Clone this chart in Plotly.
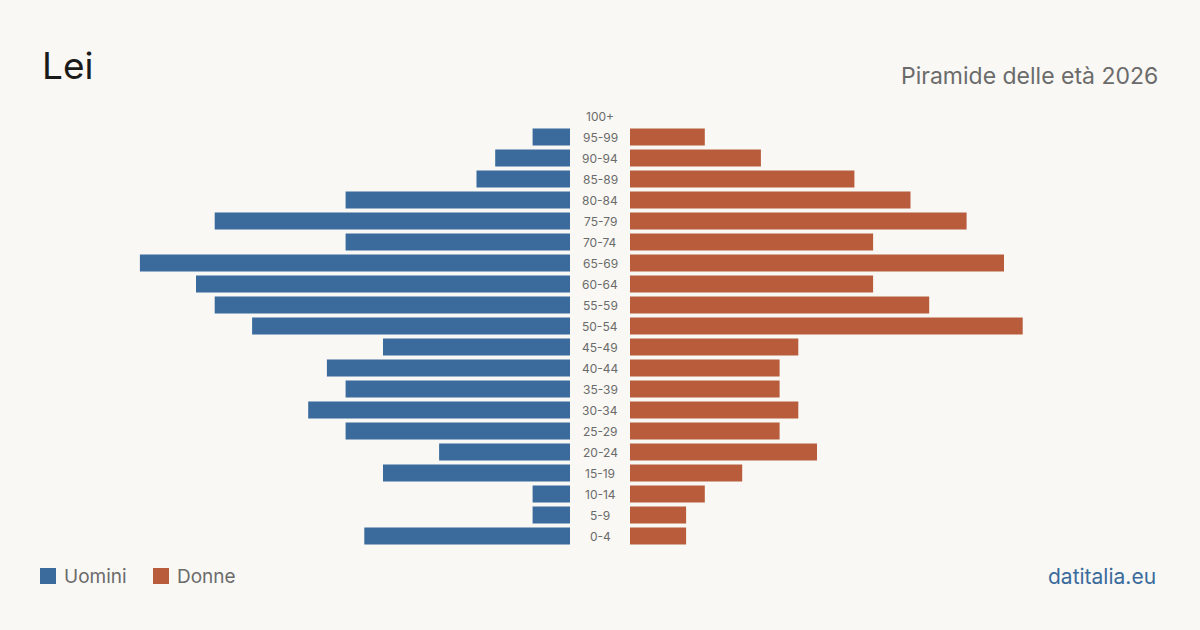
import plotly.graph_objects as go

age_groups = ["0-4", "5-9", "10-14", "15-19", "20-24", "25-29", "30-34", "35-39",
              "40-44", "45-49", "50-54", "55-59", "60-64", "65-69", "70-74", "75-79",
              "80-84", "85-89", "90-94", "95-99", "100+"]
men = [11, 2, 2, 10, 7, 12, 14, 12, 13, 10, 17, 19, 20, 23, 12, 19, 12, 5, 4, 2, 0]
women = [3, 3, 4, 6, 10, 8, 9, 8, 8, 9, 21, 16, 13, 20, 13, 18, 15, 12, 7, 4, 0]
series_names = ["Uomini", "Donne"]

BLUE = "#3A6B9C"
ORANGE = "#B85C3C"
BG = "#F9F8F4"
GREY = "#6B6B6B"
FONT = "Inter"

W, H = 1200, 630
RMAX = 24
idx = list(range(len(age_groups)))

fig = go.Figure()
fig.add_trace(go.Bar(y=idx, x=men, orientation="h", name=series_names[0], marker_color=BLUE,
                     marker_line_width=0, width=0.81, xaxis="x", yaxis="y",
                     hoverinfo="x+name", showlegend=False))
fig.add_trace(go.Bar(y=idx, x=women, orientation="h", name=series_names[1], marker_color=ORANGE,
                     marker_line_width=0, width=0.81, xaxis="x2", yaxis="y",
                     hoverinfo="x+name", showlegend=False))

for i, lab in enumerate(age_groups):
    fig.add_annotation(x=0.5, xref="paper", y=i, yref="y", text=lab, showarrow=False,
                       font=dict(family=FONT, size=12, color=GREY), xanchor="center")

fig.add_annotation(x=40 / W, y=1 - 66 / H, xref="paper", yref="paper", text="Lei",
                   showarrow=False, xanchor="left", yanchor="middle",
                   font=dict(family=FONT, size=37, color="#1A1A1A"))
fig.add_annotation(x=1160 / W, y=1 - 76 / H, xref="paper", yref="paper",
                   text="Piramide delle età 2026", showarrow=False, xanchor="right",
                   yanchor="middle", font=dict(family=FONT, size=23, color=GREY))
fig.add_annotation(x=1158 / W, y=1 - 576 / H, xref="paper", yref="paper",
                   text="datitalia.eu", showarrow=False, xanchor="right", yanchor="middle",
                   font=dict(family=FONT, size=21, color=BLUE))

# custom legend
legend_items = [(series_names[0], BLUE, 40), (series_names[1], ORANGE, 153)]
for name, col, x0 in legend_items:
    fig.add_shape(type="rect", xref="paper", yref="paper", x0=x0 / W, x1=(x0 + 16) / W,
                  y0=1 - 584 / H, y1=1 - 568 / H, fillcolor=col, line_width=0)
    fig.add_annotation(x=(x0 + 22) / W, y=1 - 576 / H, xref="paper", yref="paper", text=name,
                       showarrow=False, xanchor="left", yanchor="middle",
                       font=dict(family=FONT, size=19, color=GREY))

s = 18.7
fig.update_layout(
    width=W, height=H,
    paper_bgcolor=BG, plot_bgcolor=BG,
    margin=dict(l=0, r=0, t=0, b=0),
    barmode="overlay",
    showlegend=False,
    xaxis=dict(domain=[(570 - RMAX * s) / W, 570 / W], range=[RMAX, 0], visible=False,
               fixedrange=True),
    xaxis2=dict(domain=[630 / W, (630 + RMAX * s) / W], range=[0, RMAX], visible=False,
                fixedrange=True, anchor="y"),
    yaxis=dict(range=[(536 - 630) / 21, 536 / 21], visible=False, domain=[0, 1],
               fixedrange=True),
)

fig.write_html("out.html")
